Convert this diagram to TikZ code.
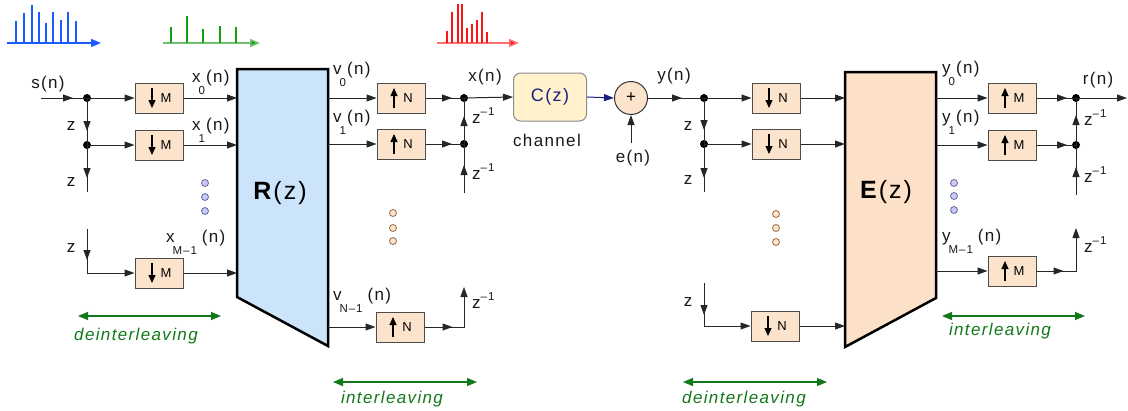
\documentclass[tikz,border=0pt]{standalone}
\usepackage{fontspec}
\setmainfont{Liberation Sans}[LetterSpace=8]
\usetikzlibrary{arrows.meta,decorations.markings}
\definecolor{peach}{HTML}{FCE3CC}
\definecolor{rblue}{HTML}{CCE4FA}
\definecolor{epeach}{HTML}{FCE0C8}
\definecolor{chan}{HTML}{FFF2CC}
\definecolor{dgreen}{HTML}{12791A}
\definecolor{navy}{HTML}{1A2080}
\definecolor{lav}{HTML}{CACAF2}
\definecolor{lavb}{HTML}{6868A8}
\definecolor{dotb}{HTML}{9A6A44}
\definecolor{stB}{HTML}{1A5CFF}
\definecolor{stG}{HTML}{14A014}
\definecolor{axG}{HTML}{70C070}
\definecolor{stR}{HTML}{FF1414}
\definecolor{axR}{HTML}{FF7070}
\newcommand\lowsub[1]{\kern-2pt\raisebox{-12pt}{\fontsize{11.5}{11.5}\selectfont #1}\kern1pt}
\newcommand\zinv{z\raisebox{8pt}{\fontsize{11.5}{11.5}\selectfont –1}}
\newcommand\dnblk[3]{\node[blk] (#1) at (#2) {\hspace*{14pt}#3};
  \draw[line width=1.1pt,-{Triangle[length=8pt,width=7pt]}] ([xshift=-7pt,yshift=10pt]#1.center) -- ([xshift=-7pt,yshift=-10pt]#1.center);}
\newcommand\upblk[3]{\node[blk] (#1) at (#2) {\hspace*{14pt}#3};
  \draw[line width=1.1pt,-{Triangle[length=8pt,width=7pt]}] ([xshift=-7pt,yshift=-10pt]#1.center) -- ([xshift=-7pt,yshift=10pt]#1.center);}
\tikzset{
  >={Triangle[length=10pt,width=7pt]},
  wire/.style={line width=1pt, draw=black!85},
  tipat/.style={postaction={decorate},decoration={markings,mark=at position #1 with {\arrow{Triangle[length=10pt,width=7pt]}}}},
  blk/.style={draw=black!70,line width=1pt,fill=peach,minimum width=48pt,minimum height=30pt,inner sep=0pt,font=\fontsize{13}{13}\selectfont},
  jdot/.style={circle,fill=black,inner sep=0pt,minimum size=8pt},
  lbl/.style={inner sep=0pt,font=\fontsize{17}{17}\selectfont,text=black!90},
  glbl/.style={inner sep=0pt,font=\fontsize{17}{17}\selectfont\itshape,text=dgreen},
  garr/.style={draw=dgreen,line width=1.2pt,{Triangle[length=10pt,width=8pt]}-{Triangle[length=10pt,width=8pt]}},
  dotL/.style={circle,draw=lavb,fill=lav,line width=0.8pt,inner sep=0pt,minimum size=7pt},
  dotP/.style={circle,draw=dotb,fill=peach,line width=0.8pt,inner sep=0pt,minimum size=7pt},
  trap/.style={line width=2.5pt,draw=black,line join=miter},
  stem/.style={line width=2pt},
  ax/.style={line width=1.5pt,-{Triangle[length=10pt,width=8pt]}},
}
\begin{document}
\begin{tikzpicture}[x=1pt,y=-1pt]
\useasboundingbox (0,0) rectangle (1128,410);
% ---- stem plots
\draw[ax,stB] (7,43) -- (101,43);
\foreach \x/\h in {16/20.7,24/12.7,31.7/4.7,39.3/12.3,46/23,53.3/12.3,61/20,68.3/12.3,76/20.7}
  \draw[stem,stB] (\x,43) -- (\x,\h);
\draw[ax,axG,-{Triangle[length=10pt,width=8pt,fill=stG]}] (163,43) -- (260,43);
\foreach \x/\h in {171/27.3,187.3/16,203.3/28.7,219.7/26,235.7/27.3}
  \draw[stem,stG] (\x,43) -- (\x,\h);
\draw[ax,axR,-{Triangle[length=10pt,width=8pt,fill=stR]}] (437,43) -- (519,43);
\foreach \x/\h in {446.7/31,452.3/12,457.7/4,462.3/4,467/28.3,472/24,476.7/20,482/12,487.3/32.3}
  \draw[stem,stR] (\x,43) -- (\x,\h);

% ---- R(z)
\coordinate (Ra) at (237,69); \coordinate (Rb) at (328,69);
\coordinate (Rc) at (328,346); \coordinate (Rd) at (237,297);
\draw[trap,fill=rblue] (Ra) -- (Rb) -- (Rc) -- (Rd) -- cycle;
\node[inner sep=0pt,font=\fontsize{25}{25}\selectfont] (Rl) at (280,193) {\textbf{R}(z)};
% ---- E(z)
\coordinate (Ea) at (845,72); \coordinate (Eb) at (936,72);
\coordinate (Ec) at (936,298); \coordinate (Ed) at (845,347);
\draw[trap,fill=epeach] (Ea) -- (Eb) -- (Ec) -- (Ed) -- cycle;
\node[inner sep=0pt,font=\fontsize{25}{25}\selectfont] (El) at (886,192) {\textbf{E}(z)};

% ---- left deinterleaving
\node[jdot] (j0) at (87,98) {};
\node[jdot] (j1) at (87,145) {};
\coordinate (sin) at (41,98);
\coordinate (t1) at (87,192);
\coordinate (t2) at (87,229);
\coordinate (c2) at (87,273);
\dnblk{m0}{159,98}{M}
\dnblk{m1}{159,145}{M}
\dnblk{m2}{159,273}{M}
\draw[wire,tipat=-14pt] (sin) -- (j0.center);
\draw[wire,->] (j0.center) -- (m0.west);
\draw[wire,tipat=-14pt] (j0.center) -- (j1.center);
\draw[wire,->] (j1.center) -- (m1.west);
\draw[wire,tipat=-14pt] (j1.center) -- (t1);
\draw[wire,->,tipat=31pt] (t2) -- (c2) -- (m2.west);
\draw[wire,->] (m0.east) -- (m0.east -| Ra);
\draw[wire,->] (m1.east) -- (m1.east -| Ra);
\draw[wire,->] (m2.east) -- (m2.east -| Ra);
\node[lbl,anchor=base] (sl) at (48,88) {s(n)};
\node[lbl,anchor=base] (z1) at (71,130) {z};
\node[lbl,anchor=base] (z2) at (71,186) {z};
\node[lbl,anchor=base] (z3) at (71,252) {z};
\node[lbl,anchor=base west] (x0l) at (192,82) {x\lowsub{0}(n)};
\node[lbl,anchor=base west] (x1l) at (192,130) {x\lowsub{1}(n)};
\node[lbl,anchor=base west] (xMl) at (166,242) {x\lowsub{M–1}\hspace{4pt}(n)};
\node[dotL] (ld1) at (205,183) {};
\node[dotL] (ld2) at (205,197) {};
\node[dotL] (ld3) at (205,211) {};
\draw[garr] (78,316) coordinate (g1a) -- (221,316) coordinate (g1b);
\node[glbl,anchor=base] (g1t) at (136,340) {deinterleaving};

% ---- middle interleaving
\upblk{n0}{401,98}{N}
\upblk{n1}{401,144}{N}
\upblk{n2}{400,327}{N}
\node[jdot] (k0) at (464,98) {};
\node[jdot] (k1) at (464,144) {};
\coordinate (kt) at (464,193);
\coordinate (c3) at (464,327);
\coordinate (e3) at (464,287);
\draw[wire,->] (n0.west -| Rb) -- (n0.west);
\draw[wire,->] (n1.west -| Rb) -- (n1.west);
\draw[wire,->] (n2.west -| Rb) -- (n2.west);
\draw[wire,tipat=-12pt] (n0.east) -- (k0.center);
\draw[wire,tipat=-12pt] (n1.east) -- (k1.center);
\draw[wire,tipat=-18pt] (k1.center) -- (k0.center);
\draw[wire,tipat=-21pt] (kt) -- (k1.center);
\draw[wire,->,tipat=28pt] (n2.east) -- (c3) -- (e3);
\node[lbl,anchor=base west] (v0l) at (333,74) {v\lowsub{0}(n)};
\node[lbl,anchor=base west] (v1l) at (333,122) {v\lowsub{1}(n)};
\node[lbl,anchor=base west] (vNl) at (333,300) {v\lowsub{N–1}\hspace{4pt}(n)};
\node[lbl,anchor=base west] (zi1) at (472,123) {\zinv};
\node[lbl,anchor=base west] (zi2) at (472,179) {\zinv};
\node[lbl,anchor=base west] (zi3) at (472,308) {\zinv};
\node[lbl,anchor=base] (xl) at (485,81) {x(n)};
\node[dotP] (md1) at (393,213) {};
\node[dotP] (md2) at (393,228) {};
\node[dotP] (md3) at (393,241) {};
\draw[garr] (333,382) coordinate (g2a) -- (477,382) coordinate (g2b);
\node[glbl,anchor=base] (g2t) at (392,403) {interleaving};

% ---- channel
\node[draw=black!45,line width=1pt,fill=chan,rounded corners=7pt,minimum width=73pt,minimum height=48pt,inner sep=0pt,font=\fontsize{18}{18}\selectfont,text=navy] (ch) at (550,97) {C(z)};
\node[lbl,anchor=base] (chl) at (547,146) {channel};
\node[circle,draw=black!80,line width=1pt,fill=peach,minimum size=33pt,inner sep=0pt,font=\fontsize{17}{17}\selectfont] (sum) at (631,98) {+};
\coordinate (ein) at (631,143);
\draw[wire,->] (k0.center) -- (ch.west);
\draw[wire,draw=navy,->] (ch.east) -- (sum.west);
\draw[wire,->] (ein) -- (sum.south);
\node[lbl,anchor=base] (el) at (633,162) {e(n)};

% ---- right deinterleaving
\node[jdot] (p0) at (704,98) {};
\node[jdot] (p1) at (704,144) {};
\coordinate (pt) at (704,192);
\coordinate (t3) at (704,283);
\coordinate (c4) at (704,326);
\dnblk{d0}{776,98}{N}
\dnblk{d1}{776,144}{N}
\dnblk{d2}{775,326}{N}
\draw[wire,tipat=-22pt] (sum.east) -- (p0.center);
\draw[wire,->] (p0.center) -- (d0.west);
\draw[wire,tipat=-14pt] (p0.center) -- (p1.center);
\draw[wire,->] (p1.center) -- (d1.west);
\draw[wire,tipat=-14pt] (p1.center) -- (pt);
\draw[wire,->,tipat=32pt] (t3) -- (c4) -- (d2.west);
\draw[wire,->] (d0.east) -- (d0.east -| Ea);
\draw[wire,->] (d1.east) -- (d1.east -| Ea);
\draw[wire,->] (d2.east) -- (d2.east -| Ea);
\node[lbl,anchor=base] (yl) at (674,80) {y(n)};
\node[lbl,anchor=base] (z4) at (688,130) {z};
\node[lbl,anchor=base] (z5) at (688,184) {z};
\node[lbl,anchor=base] (z6) at (688,306) {z};
\node[dotP] (rd1) at (776,214) {};
\node[dotP] (rd2) at (776,228) {};
\node[dotP] (rd3) at (776,242) {};
\draw[garr] (683,382) coordinate (g3a) -- (827,382) coordinate (g3b);
\node[glbl,anchor=base] (g3t) at (744,403) {deinterleaving};

% ---- right interleaving
\upblk{u0}{1012,98}{M}
\upblk{u1}{1012,145}{M}
\upblk{u2}{1012,271}{M}
\node[jdot] (q0) at (1076,98) {};
\node[jdot] (q1) at (1076,145) {};
\coordinate (out) at (1127,98);
\coordinate (qt) at (1076,195);
\coordinate (c5) at (1076,271);
\coordinate (e5) at (1076,228);
\draw[wire,->] (u0.west -| Eb) -- (u0.west);
\draw[wire,->] (u1.west -| Eb) -- (u1.west);
\draw[wire,->] (u2.west -| Ec) -- (u2.west);
\draw[wire,tipat=-9pt] (u0.east) -- (q0.center);
\draw[wire,->] (q0.center) -- (out);
\draw[wire,tipat=-9pt] (u1.east) -- (q1.center);
\draw[wire,tipat=-17pt] (q1.center) -- (q0.center);
\draw[wire,tipat=-22pt] (qt) -- (q1.center);
\draw[wire,->,tipat=27pt] (u2.east) -- (c5) -- (e5);
\node[lbl,anchor=base west] (y0l) at (942,73) {y\lowsub{0}(n)};
\node[lbl,anchor=base west] (y1l) at (942,122) {y\lowsub{1}(n)};
\node[lbl,anchor=base west] (yMl) at (942,241) {y\lowsub{M–1}\hspace{4pt}(n)};
\node[lbl,anchor=base] (rl) at (1098,84) {r(n)};
\node[lbl,anchor=base west] (zi4) at (1084,125) {\zinv};
\node[lbl,anchor=base west] (zi5) at (1084,182) {\zinv};
\node[lbl,anchor=base west] (zi6) at (1084,252) {\zinv};
\node[dotL] (ed1) at (954,183) {};
\node[dotL] (ed2) at (954,196) {};
\node[dotL] (ed3) at (954,210) {};
\draw[garr] (942,316) coordinate (g4a) -- (1085,316) coordinate (g4b);
\node[glbl,anchor=base] (g4t) at (1000,335) {interleaving};
\end{tikzpicture}
\end{document}
